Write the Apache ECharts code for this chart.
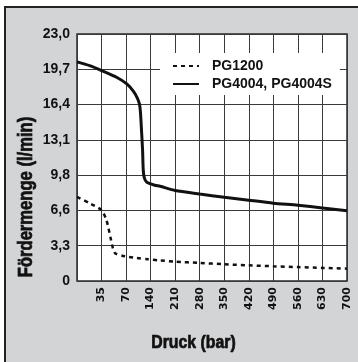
<!DOCTYPE html>
<html>
<head>
<meta charset="utf-8">
<script src="https://cdn.jsdelivr.net/npm/echarts@6/dist/echarts.min.js"></script>
<style>
  html, body { margin: 0; padding: 0; background: #fff; }
  #panel {
    position: absolute; left: 4px; top: 6px; width: 354px; height: 356px;
    background: #d3d4d6; border-top: 2px solid #222; border-left: 2px solid #222;
    box-sizing: border-box;
  }
  #chart { position: absolute; left: 0; top: 0; width: 358px; height: 362px; }
</style>
</head>
<body>
<div id="panel"></div>
<div id="chart"></div>
<script>
// Pressure steps (bar) shown along the x axis; they are evenly spaced slots.
const pressureTicks = [0, 35, 70, 140, 210, 280, 350, 420, 490, 560, 630, 700];
const xTickLabels = ['', '35', '70', '140', '210', '280', '350', '420', '490', '560', '630', '700'];

// Flow (l/min) axis: 0 … 23 in seven equal steps.
const yMax = 23.0;
const ySteps = 7;
const yTickLabels = ['0', '3,3', '6,6', '9,8', '13,1', '16,4', '19,7', '23,0'];

const seriesNames = ['PG1200', 'PG4004, PG4004S'];

// [pressure (bar), flow (l/min)]
const pg1200 = [
  [0, 7.83], [18, 7.24], [35, 6.59], [42, 5.66], [48, 3.98], [52, 2.86],
  [55, 2.55], [68, 2.3], [100, 2.15], [133, 2.02], [162, 1.93],
  [210, 1.8], [280, 1.68], [350, 1.56], [420, 1.46], [490, 1.37],
  [560, 1.3], [630, 1.22], [700, 1.15]
];

const pg4004 = [
  [0, 20.4], [18, 20.05], [35, 19.6], [57, 18.95], [72, 18.35], [90, 17.7],
  [101, 17.1], [108, 16.5], [111, 15.7], [114, 14.0], [117, 12.2],
  [119, 10.3], [122, 9.6], [129, 9.2], [152, 8.92], [167, 8.82],
  [210, 8.42], [280, 8.1], [350, 7.8], [420, 7.52], [490, 7.25],
  [560, 7.05], [630, 6.8], [700, 6.55]
];

// The pressure axis is piecewise linear between the labelled steps.
function pressureToSlot(p) {
  for (let i = 1; i < pressureTicks.length; i++) {
    if (p <= pressureTicks[i]) {
      const a = pressureTicks[i - 1], b = pressureTicks[i];
      return i - 1 + (p - a) / (b - a);
    }
  }
  return pressureTicks.length - 1;
}

const toSeriesData = pts => pts.map(([p, q]) => [pressureToSlot(p), q]);

const chart = echarts.init(document.getElementById('chart'), null, { renderer: 'canvas' });
const yStep = yMax / ySteps;

chart.setOption({
  backgroundColor: 'transparent',
  animation: false,
  grid: {
    left: 77, right: 11, top: 34, bottom: 81,
    show: true, backgroundColor: '#fff', borderColor: '#2a2a2a', borderWidth: 1.5
  },
  legend: {
    orient: 'vertical',
    left: 160, top: 53,
    backgroundColor: '#fff',
    padding: [6, 8, 4, 12],
    itemWidth: 26, itemHeight: 14, itemGap: 4,
    itemStyle: { opacity: 0 },
    textStyle: { fontFamily: 'Liberation Sans', fontWeight: 'bold', fontSize: 14, color: '#111', padding: [0, 0, 0, 8] },
    data: seriesNames
  },
  xAxis: {
    type: 'value', min: 0, max: pressureTicks.length - 1, interval: 1,
    axisLine: { show: false },
    axisTick: { show: false },
    splitLine: { show: true, lineStyle: { color: '#3a3a3a', width: 1 } },
    axisLabel: {
      rotate: 90, margin: 6,
      fontFamily: 'DejaVu Sans', fontWeight: 'bold', fontSize: 11, color: '#111',
      formatter: v => xTickLabels[Math.round(v)] || ''
    }
  },
  yAxis: {
    type: 'value', min: 0, max: yMax, interval: yStep,
    axisLine: { show: false },
    axisTick: { show: false },
    splitLine: { show: true, lineStyle: { color: '#3a3a3a', width: 1 } },
    axisLabel: {
      margin: 7,
      fontFamily: 'Liberation Sans', fontWeight: 'bold', fontSize: 14, color: '#111',
      formatter: v => yTickLabels[Math.round(v / yStep)] ?? ''
    }
  },
  graphic: [
    {
      type: 'text', x: 26, y: 197, rotation: Math.PI / 2, scaleX: 0.83,
      style: {
        text: 'Fördermenge (l/min)', fill: '#111', stroke: '#111', lineWidth: 0.7,
        font: 'bold 20px "Liberation Sans", sans-serif',
        textAlign: 'center', textVerticalAlign: 'middle'
      }
    },
    {
      type: 'text', x: 193.5, y: 343, scaleX: 0.88,
      style: {
        text: 'Druck (bar)', fill: '#111', stroke: '#111', lineWidth: 0.7,
        font: 'bold 18px "Liberation Sans", sans-serif',
        textAlign: 'center', textVerticalAlign: 'middle'
      }
    }
  ],
  series: [
    {
      name: seriesNames[0], type: 'line', symbol: 'none',
      smooth: 0.25,
      lineStyle: { color: '#111', width: 2.5, type: [4, 4] },
      itemStyle: { color: '#111' },
      data: toSeriesData(pg1200)
    },
    {
      name: seriesNames[1], type: 'line', symbol: 'none',
      smooth: 0.25,
      lineStyle: { color: '#111', width: 3 },
      itemStyle: { color: '#111' },
      data: toSeriesData(pg4004)
    }
  ]
});
</script>
</body>
</html>
